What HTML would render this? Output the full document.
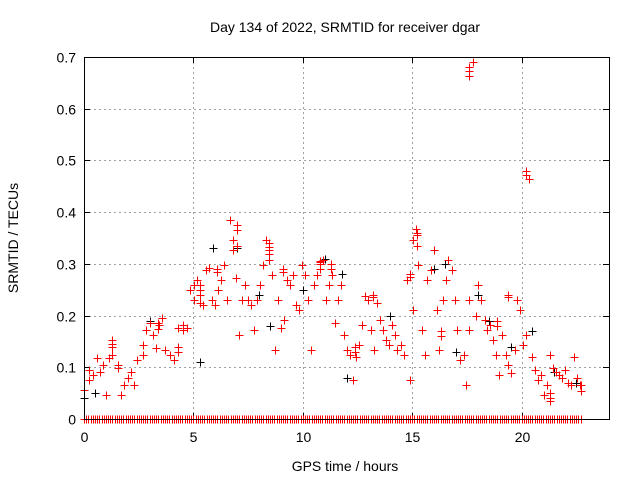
<!DOCTYPE html>
<html><head><meta charset="utf-8"><style>
body{margin:0;background:#fff}
svg{display:block;font-family:"Liberation Sans",sans-serif}
</style></head><body>
<svg id="c" width="640" height="480"></svg>
<script>
const redT=[0,0.23,0.23,0.41,0.59,0.73,0.87,1.0,1.14,1.28,1.28,1.55,1.55,1.69,1.83,2.0,2.15,2.28,2.42,2.69,2.69,2.83,3.0,3.15,3.29,3.42,3.56,3.7,3.93,4.11,4.29,4.52,4.52,4.7,4.84,5.02,5.02,5.16,5.3,5.44,5.57,5.71,5.85,5.98,6.12,6.26,6.39,6.53,6.67,6.8,6.8,6.94,7.08,7.21,7.35,7.49,7.62,7.76,7.9,8.04,8.17,8.31,8.45,8.45,8.58,8.72,8.86,8.99,9.13,9.27,9.4,9.54,9.68,9.82,9.95,10.09,10.23,10.36,10.5,10.64,10.77,10.91,11.05,11.19,11.32,11.46,11.6,11.73,11.87,12.01,12.14,12.28,12.42,12.55,12.69,12.83,12.97,13.1,13.24,13.38,13.51,13.65,13.79,13.92,14.06,14.2,14.33,14.47,14.61,14.75,14.88,15.02,15.02,15.16,15.29,15.43,15.57,15.7,15.84,15.98,16.12,16.25,16.39,16.53,16.66,16.8,16.94,17.07,17.21,17.35,17.48,17.62,17.62,17.76,17.9,18.03,18.17,18.31,18.44,18.58,18.72,18.85,18.99,19.13,19.27,19.4,19.54,19.68,19.81,19.95,20.09,20.22,20.22,20.36,20.5,20.63,20.77,20.91,21.05,21.18,21.32,21.46,21.59,21.73,21.87,22.0,22.14,22.28,22.42,22.55,22.69];
const redV=[0.056,0.095,0.075,0.085,0.118,0.091,0.104,0.046,0.118,0.153,0.124,0.099,0.104,0.046,0.066,0.079,0.091,0.066,0.114,0.124,0.143,0.172,0.186,0.162,0.137,0.182,0.195,0.133,0.124,0.114,0.176,0.182,0.172,0.176,0.25,0.23,0.26,0.269,0.224,0.22,0.288,0.292,0.23,0.22,0.25,0.269,0.298,0.23,0.385,0.327,0.346,0.273,0.162,0.23,0.26,0.23,0.22,0.172,0.23,0.26,0.298,0.346,0.327,0.308,0.279,0.133,0.23,0.176,0.191,0.269,0.26,0.279,0.22,0.211,0.298,0.279,0.23,0.133,0.26,0.279,0.304,0.308,0.23,0.26,0.279,0.186,0.23,0.26,0.162,0.133,0.124,0.075,0.12,0.143,0.182,0.238,0.23,0.172,0.133,0.224,0.191,0.172,0.153,0.143,0.182,0.162,0.133,0.143,0.124,0.269,0.075,0.211,0.346,0.367,0.298,0.172,0.124,0.269,0.288,0.327,0.211,0.133,0.23,0.269,0.308,0.289,0.23,0.172,0.114,0.124,0.066,0.172,0.23,0.69,0.20,0.26,0.23,0.191,0.172,0.182,0.153,0.124,0.085,0.162,0.124,0.104,0.089,0.133,0.23,0.211,0.143,0.162,0.472,0.465,0.12,0.095,0.075,0.085,0.046,0.066,0.124,0.099,0.091,0.085,0.079,0.095,0.07,0.066,0.12,0.079,0.066,0.06];
const redT2=[17.62,17.62,17.62,20.22,20.22,7.0,7.0,7.0,8.45,8.45,8.45,15.2,15.2,15.2,5.3,5.3,5.3,6.1,6.1,10.8,10.8,10.8,11.3,11.3,13.2,13.2,14.9,14.9,18.9,18.9,19.4,19.4,21.3,21.3,21.3,22.7,22.7,3.4,3.4,4.3,4.3,1.3,1.3,9.1,9.1,16.3,16.3,12.4,12.4];
const redV2=[0.68,0.672,0.664,0.48,0.472,0.375,0.365,0.335,0.34,0.333,0.32,0.36,0.355,0.335,0.26,0.25,0.24,0.29,0.285,0.305,0.3,0.29,0.3,0.29,0.24,0.235,0.28,0.275,0.19,0.18,0.24,0.235,0.04,0.035,0.05,0.065,0.055,0.185,0.175,0.14,0.13,0.14,0.145,0.29,0.285,0.17,0.16,0.14,0.13];
const blackT=[0,0.5,3,5.3,5.9,7,8,8.5,10,11,11.8,12,14,16,16.5,17,18,18.5,19.5,20.5,21.5,22.5];
const blackV=[0.04,0.05,0.19,0.11,0.33,0.33,0.24,0.18,0.25,0.31,0.28,0.08,0.2,0.29,0.3,0.13,0.24,0.19,0.14,0.17,0.09,0.07];
const zeroT=[0,0.1,0.2,0.3,0.4,0.5,0.6,0.7,0.8,0.9,1,1.1,1.2,1.3,1.4,1.5,1.6,1.7,1.8,1.9,2,2.1,2.2,2.3,2.4,2.5,2.6,2.7,2.8,2.9,3,3.1,3.2,3.3,3.4,3.5,3.6,3.7,3.8,3.9,4,4.1,4.2,4.3,4.4,4.5,4.6,4.7,4.8,4.9,5,5.1,5.2,5.3,5.4,5.5,5.6,5.7,5.8,5.9,6,6.1,6.2,6.3,6.4,6.5,6.6,6.7,6.8,6.9,7,7.1,7.2,7.3,7.4,7.5,7.6,7.7,7.8,7.9,8,8.1,8.2,8.3,8.4,8.5,8.6,8.7,8.8,8.9,9,9.1,9.2,9.3,9.4,9.5,9.6,9.7,9.8,9.9,10,10.1,10.2,10.3,10.4,10.5,10.6,10.7,10.8,10.9,11,11.1,11.2,11.3,11.4,11.5,11.6,11.7,11.8,11.9,12,12.1,12.2,12.3,12.4,12.5,12.6,12.7,12.8,12.9,13,13.1,13.2,13.3,13.4,13.5,13.6,13.7,13.8,13.9,14,14.1,14.2,14.3,14.4,14.5,14.6,14.7,14.8,14.9,15,15.1,15.2,15.3,15.4,15.5,15.6,15.7,15.8,15.9,16,16.1,16.2,16.3,16.4,16.5,16.6,16.7,16.8,16.9,17,17.1,17.2,17.3,17.4,17.5,17.6,17.7,17.8,17.9,18,18.1,18.2,18.3,18.4,18.5,18.6,18.7,18.8,18.9,19,19.1,19.2,19.3,19.4,19.5,19.6,19.7,19.8,19.9,20,20.1,20.2,20.3,20.4,20.5,20.6,20.7,20.8,20.9,21,21.1,21.2,21.3,21.4,21.5,21.6,21.7,21.8,21.9,22,22.1,22.2,22.3,22.4,22.5,22.6,22.7];
const xTicks=[0,5,10,15,20];
const yTicks=[0,0.1,0.2,0.3,0.4,0.5,0.6,0.7];

const L=84,R=609,T=57,B=419,XMAX=24,YMAX=0.7;
const sx=t=>L+t/XMAX*(R-L), sy=v=>B-v/YMAX*(B-T);
const svg=document.getElementById('c'),NS='http://www.w3.org/2000/svg';
function mk(tag,a,p){const e=document.createElementNS(NS,tag);for(const k in a)e.setAttribute(k,a[k]);(p||svg).appendChild(e);return e;}
const grid=mk('g',{'shape-rendering':'crispEdges'});


xTicks.forEach(t=>{const x=Math.round(sx(t))+0.5;
 if(t>0){const g=mk('line',{x1:x,x2:x,y1:T,y2:B,stroke:'#a0a0a0','stroke-dasharray':'2,3'},grid);
 }
 mk('line',{x1:x,x2:x,y1:B,y2:B-6,stroke:'#000'},grid);mk('line',{x1:x,x2:x,y1:T,y2:T+6,stroke:'#000'},grid);
 const tx=mk('text',{x:x,y:B+23,'text-anchor':'middle','font-size':14});tx.textContent=t;
 });
yTicks.forEach(v=>{const y=Math.round(sy(v))+0.5;
 if(v>0&&v<0.7){const g=mk('line',{x1:L,x2:R,y1:y,y2:y,stroke:'#a0a0a0','stroke-dasharray':'2,3'},grid);
 }
 mk('line',{x1:L,x2:L+6,y1:y,y2:y,stroke:'#000'},grid);mk('line',{x1:R,x2:R-6,y1:y,y2:y,stroke:'#000'},grid);
 const tx=mk('text',{x:L-8,y:y+5,'text-anchor':'end','font-size':14});tx.textContent=v.toFixed(1).replace('0.0','0');
 });
function plus(t,v,c,p){const x=Math.round(sx(t))+0.5,y=Math.round(sy(v))+0.5;
 const g=mk('path',{d:`M${x-4},${y}h8M${x},${y-4}v8`,stroke:c,'stroke-width':1},p);
 }
const bs=mk('g',{'shape-rendering':'crispEdges'});
blackT.forEach((t,i)=>plus(t,blackV[i],'#000',bs));
const rs=mk('g',{'shape-rendering':'crispEdges'});
redT.forEach((t,i)=>plus(t,redV[i],'#f00',rs));
redT2.forEach((t,i)=>plus(t,redV2[i],'#f00',rs));
zeroT.forEach(t=>plus(t,0,'#f00',rs));
const fr=mk('rect',{x:L+0.5,y:T+0.5,width:R-L,height:B-T,fill:'none',stroke:'#000','shape-rendering':'crispEdges'});

const ti=mk('text',{x:345,y:32,'text-anchor':'middle','font-size':14});ti.textContent='Day 134 of 2022, SRMTID for receiver dgar';

const xl=mk('text',{x:345,y:471,'text-anchor':'middle','font-size':14});xl.textContent='GPS time / hours';

const yl=mk('text',{x:0,y:0,'text-anchor':'middle','font-size':14,transform:'translate(18,238) rotate(-90)'});yl.textContent='SRMTID / TECUs';

</script>
</body></html>
